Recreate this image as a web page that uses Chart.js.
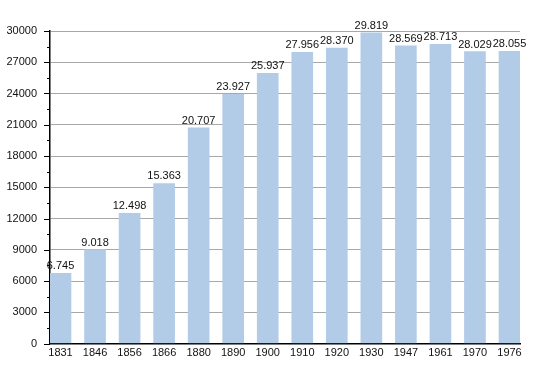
<!DOCTYPE html>
<html>
<head>
<meta charset="utf-8">
<script src="https://cdn.jsdelivr.net/npm/chart.js@4/dist/chart.umd.min.js"></script>
<style>
  html, body { margin: 0; padding: 0; background: #fff; }
  canvas { display: block; }
</style>
</head>
<body>
<canvas id="chart" width="550" height="373"></canvas>
<script>
// population by census year
const years = ['1831', '1846', '1856', '1866', '1880', '1890', '1900', '1910', '1920', '1930', '1947', '1961', '1970', '1976'];
const population = [6745, 9018, 12498, 15363, 20707, 23927, 25937, 27956, 28370, 29819, 28569, 28713, 28029, 28055];
const valueLabels = ['6.745', '9.018', '12.498', '15.363', '20.707', '23.927', '25.937', '27.956', '28.370', '29.819', '28.569', '28.713', '28.029', '28.055'];

const yMax = 30000;
const yMajor = 3000;
const yMinor = 1500;

const FONT = '"Liberation Sans", Arial, sans-serif';

// small tick marks left of the y axis (long on labelled values, short in between)
const yTickMarks = {
  id: 'yTickMarks',
  afterDraw(chart) {
    const y = chart.scales.y;
    const ctx = chart.ctx;
    const left = chart.chartArea.left;
    ctx.save();
    ctx.strokeStyle = '#000';
    ctx.lineWidth = 1;
    for (let v = 0; v <= yMax; v += yMinor) {
      const py = Math.round(y.getPixelForValue(v)) + 0.5;
      const len = v % yMajor === 0 ? 6 : 3;
      ctx.beginPath();
      ctx.moveTo(left - len, py);
      ctx.lineTo(left, py);
      ctx.stroke();
    }
    ctx.restore();
  }
};

// value written above each bar
const barValues = {
  id: 'barValues',
  afterDatasetsDraw(chart) {
    const ctx = chart.ctx;
    const meta = chart.getDatasetMeta(0);
    ctx.save();
    ctx.font = '11px ' + FONT;
    ctx.fillStyle = '#111';
    ctx.textAlign = 'center';
    ctx.textBaseline = 'alphabetic';
    meta.data.forEach((bar, i) => {
      ctx.fillText(valueLabels[i], bar.x, bar.y - 4);
    });
    ctx.restore();
  }
};

const ctx = document.getElementById('chart').getContext('2d');
new Chart(ctx, {
  type: 'bar',
  data: {
    datasets: [{
      data: population.map((v, i) => ({ x: i, y: v })),
      backgroundColor: 'rgb(178, 203, 230)',
      borderWidth: 0,
      barThickness: 21
    }]
  },
  options: {
    responsive: false,
    animation: false,
    devicePixelRatio: 1,
    layout: { padding: { top: 31, right: 30, left: 0, bottom: 0 } },
    plugins: {
      legend: { display: false },
      tooltip: { enabled: false }
    },
    scales: {
      x: {
        type: 'linear',
        offset: false,
        min: -0.304,
        max: years.length - 1 + 0.304,
        afterBuildTicks: (axis) => { axis.ticks = years.map((_, i) => ({ value: i })); },
        afterFit: (axis) => { axis.height = 29.5; },
        grid: { display: false, drawTicks: false },
        border: { display: true, color: '#000', width: 1.5 },
        ticks: {
          autoSkip: false,
          maxRotation: 0,
          padding: 3,
          color: '#111',
          font: { family: FONT, size: 11 },
          callback: (v) => years[v]
        }
      },
      y: {
        min: 0,
        max: yMax,
        afterFit: (axis) => { axis.width = 50; },
        grid: {
          drawTicks: false,
          color: (c) => (c.tick.value % yMajor === 0 ? '#a8a8a8' : '#e2e2e2')
        },
        border: { display: true, color: '#000', width: 1.5 },
        ticks: {
          stepSize: yMinor,
          padding: 13,
          color: '#111',
          font: { family: FONT, size: 11 },
          callback: (v) => (v % yMajor === 0 ? String(v) : '')
        }
      }
    }
  },
  plugins: [yTickMarks, barValues]
});
</script>
</body>
</html>
